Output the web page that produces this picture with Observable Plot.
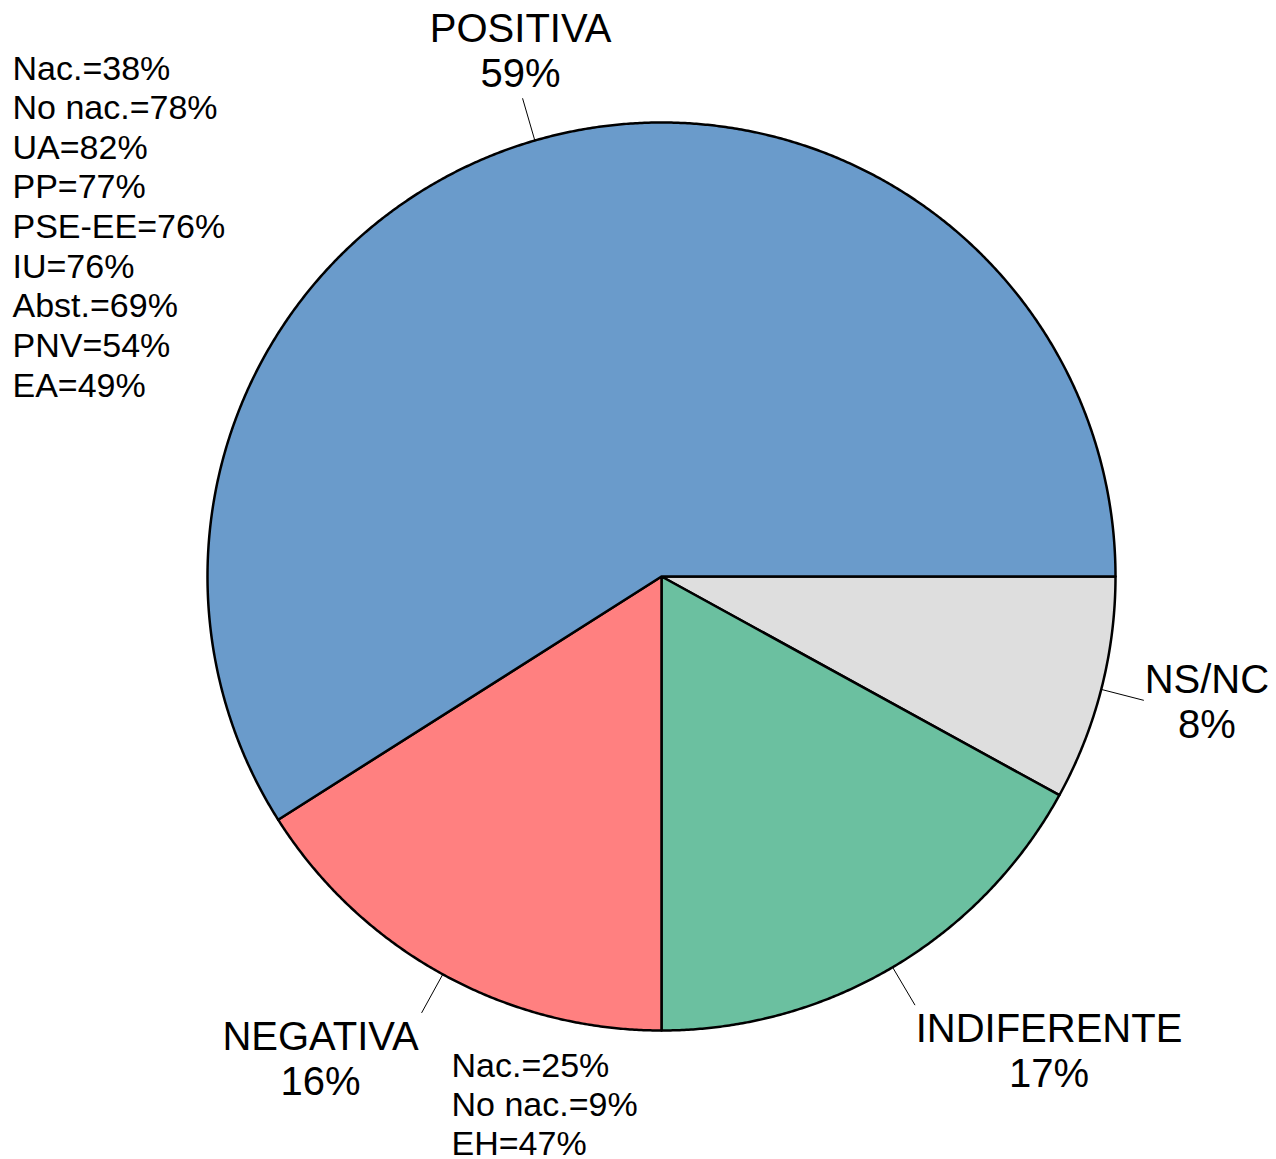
<!DOCTYPE html>
<html><head><meta charset="utf-8">
<script src="https://cdn.jsdelivr.net/npm/d3@7"></script>
<script src="https://cdn.jsdelivr.net/npm/@observablehq/plot@0.6"></script>
<style>body{margin:0;background:#fff}</style>
</head><body><div id="chart"></div>
<script>
// Slices listed clockwise starting at 3 o'clock
const categories = ["NS/NC", "INDIFERENTE", "NEGATIVA", "POSITIVA"];
const values = [8, 17, 16, 59];
const colors = ["#dedede", "#6bc0a0", "#ff8080", "#6a9bcb"];
const positivaBreakdown = ["Nac.=38%", "No nac.=78%", "UA=82%", "PP=77%", "PSE-EE=76%", "IU=76%", "Abst.=69%", "PNV=54%", "EA=49%"];
const negativaBreakdown = ["Nac.=25%", "No nac.=9%", "EH=47%"];

// layout constants
const W = 1276, H = 1159, CX = 661, CY = 576, R = 454, LEAD = 44;
const labelOffsets = {
  "NS/NC": [63, 1],
  "INDIFERENTE": [134, 45],
  "NEGATIVA": [-101, 45],
  "POSITIVA": [-2, -48]
};
const font = "Liberation Sans, Arial, Helvetica, sans-serif";

const pie = d3.pie().sort(null).value(d => d.value)
  .startAngle(Math.PI / 2).endAngle(Math.PI / 2 + 2 * Math.PI);
const arcs = pie(categories.map((c, i) => ({cat: c, value: values[i]})));
const pt = (a, r) => [r * Math.sin(a), r * Math.cos(a)];

const polys = [];
for (const a of arcs) {
  const cat = a.data.cat;
  polys.push({cat, x: 0, y: 0});
  const n = Math.max(4, Math.ceil((a.endAngle - a.startAngle) / 0.005));
  for (let i = 0; i <= n; i++) {
    const ang = a.startAngle + (a.endAngle - a.startAngle) * i / n;
    const [x, y] = pt(ang, R);
    polys.push({cat, x, y});
  }
  polys.push({cat, x: 0, y: 0});
}

const leaders = arcs.map(a => {
  const m = (a.startAngle + a.endAngle) / 2;
  const [x1, y1] = pt(m, R);
  const [x2, y2] = pt(m, R + LEAD);
  return {cat: a.data.cat, value: a.data.value, x1, y1, x2, y2};
});
const labels = leaders.map(l => ({
  text: `${l.cat}\n${l.value}%`,
  x: l.x2 + labelOffsets[l.cat][0],
  y: l.y2 - labelOffsets[l.cat][1]
}));

const chart = Plot.plot({
  width: W, height: H,
  marginTop: 0, marginRight: 0, marginBottom: 0, marginLeft: 0,
  style: {fontFamily: font, background: "#fff"},
  x: {domain: [-CX, W - CX], axis: null},
  y: {domain: [-(H - CY), CY], axis: null},
  color: {domain: categories, range: colors},
  marks: [
    Plot.line(polys, {x: "x", y: "y", z: "cat", fill: "cat", stroke: "#000", strokeWidth: 2.5, strokeLinejoin: "round", curve: "linear"}),
    Plot.link(leaders, {x1: "x1", y1: "y1", x2: "x2", y2: "y2", stroke: "#000", strokeWidth: 1}),
    Plot.text(labels, {x: "x", y: "y", text: "text", fontSize: 40, lineHeight: 1.13, textAnchor: "middle", lineAnchor: "middle", fill: "#000", fontFamily: font}),
    Plot.text([positivaBreakdown.join("\n")], {frameAnchor: "top-left", dx: 12, dy: 51, text: d => d, fontSize: 34, lineHeight: 1.165, textAnchor: "start", lineAnchor: "top", fill: "#000", fontFamily: font}),
    Plot.text([negativaBreakdown.join("\n")], {frameAnchor: "top-left", dx: 451, dy: 1049, text: d => d, fontSize: 34, lineHeight: 1.14, textAnchor: "start", lineAnchor: "top", fill: "#000", fontFamily: font})
  ]
});
document.getElementById("chart").appendChild(chart);
</script>
</body></html>
